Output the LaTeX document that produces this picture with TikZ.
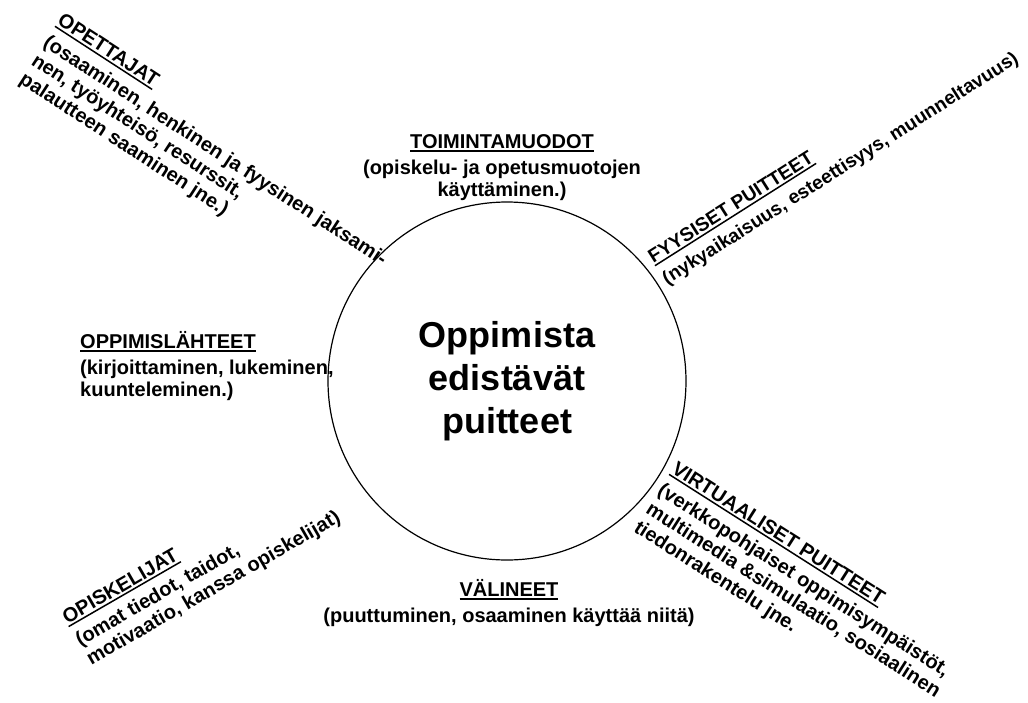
\documentclass[tikz,border=0pt]{standalone}
\usepackage{fontspec}
\setmainfont{Liberation Sans}
\newcommand{\ulhead}[1]{\setbox0=\hbox{#1}\rlap{\rule[-3.5pt]{\wd0}{1.5pt}}\box0}
\begin{document}
\begin{tikzpicture}[x=1pt,y=-1pt]
\tikzset{
	hub/.style={circle, draw, line width=1.2pt, minimum size=358pt, inner sep=0pt,
		align=center, font=\fontsize{36}{43}\selectfont\bfseries},
	sidetext/.style={inner sep=0pt, align=left, font=\fontsize{20}{22}\selectfont\bfseries},
	midtext/.style={sidetext, align=center, anchor=north}
}
\useasboundingbox (0,0) rectangle (1028,702);

\node[hub] (hub) at (507,381) {Oppimista\\edistävät\\puitteet};

% straight labels
\node[midtext] (toiminta) at (502,134)
	{\ulhead{TOIMINTAMUODOT}\\[4pt](opiskelu- ja opetusmuotojen\\käyttäminen.)};
\node[sidetext, anchor=north west] (lahteet) at (80,331)
	{\ulhead{OPPIMISLÄHTEET}\\[4pt](kirjoittaminen, lukeminen,\\kuunteleminen.)};
\node[midtext] (valineet) at (509,579)
	{\ulhead{VÄLINEET}\\[4pt](puuttuminen, osaaminen käyttää niitä)};

% slanted labels
\node[sidetext, anchor=north west, rotate=-33] (opettajat) at (64,12)
	{\ulhead{OPETTAJAT}\\[4pt](osaaminen, henkinen ja fyysinen jaksami-\\nen, työyhteisö, resurssit,\\palautteen saaminen jne.)};
\node[sidetext, anchor=north west, rotate=32.4, font=\fontsize{19.2}{22}\selectfont\bfseries] (fyysiset) at (646,252)
	{\ulhead{FYYSISET PUITTEET}\\[4pt](nykyaikaisuus, esteettisyys, muunneltavuus)};
\node[sidetext, anchor=north west, rotate=30] (opiskelijat) at (60,612)
	{\ulhead{OPISKELIJAT}\\[4pt](omat tiedot, taidot,\\motivaatio, kanssa opiskelijat)};
\node[sidetext, anchor=north west, rotate=-32.5] (virtuaaliset) at (678,460)
	{\ulhead{VIRTUAALISET PUITTEET}\\[4pt](verkkopohjaiset oppimisympäistöt,\\multimedia \&simulaatio, sosiaalinen\\tiedonrakentelu jne.};
\end{tikzpicture}
\end{document}
